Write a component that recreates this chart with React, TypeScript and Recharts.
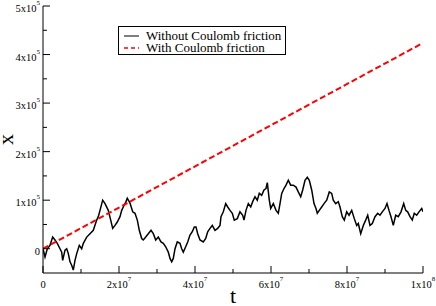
import React from 'react';
import { LineChart, Line, XAxis, YAxis } from 'recharts';

// t in units of 1e6, x in units of 1e3
const T_UNIT = 1e6;
const X_UNIT = 1e3;

const tWithout = [
  0, 0.53, 1.13, 1.84, 2.55, 3.16, 3.76, 4.47, 4.92, 5.18,
  5.79, 6.24, 6.66, 7.11, 7.55, 7.97, 8.42, 8.87, 9.55, 10.18,
  10.61, 11.5, 12.37, 13.24, 14.13, 14.55, 15.0, 15.71, 16.32, 17.18,
  17.82, 18.34, 18.95, 19.55, 20.26, 20.71, 21.13, 21.84, 22.18, 22.89,
  23.61, 24.21, 24.82, 25.34, 25.97, 26.39, 27.03, 27.71, 28.42, 29.03,
  29.66, 30.34, 31.05, 31.66, 32.29, 32.97, 33.42, 33.87, 34.29, 34.74,
  35.34, 36.05, 36.5, 36.92, 37.55, 38.08, 38.68, 39.29, 39.82, 40.26,
  40.71, 41.32, 42.18, 42.82, 43.34, 43.95, 44.55, 45.26, 45.97, 46.58,
  46.84, 47.45, 48.08, 48.61, 49.21, 49.82, 50.34, 51.13, 51.84, 52.55,
  52.89, 53.42, 54.03, 54.66, 55.18, 55.79, 56.39, 56.92, 57.55, 58.16,
  58.68, 59.03, 59.55, 59.92, 60.61, 61.32, 61.92, 62.37, 62.82, 63.42,
  63.95, 64.55, 65.18, 65.87, 66.58, 67.18, 67.82, 68.34, 68.95, 69.55,
  70.08, 70.71, 71.32, 71.84, 72.18, 72.71, 73.34, 73.95, 74.66, 75.34,
  75.97, 76.39, 77.03, 77.71, 78.16, 78.76, 79.29, 79.92, 80.53, 81.24,
  81.92, 82.55, 82.97, 83.61, 84.29, 84.92, 85.45, 86.05, 86.66, 87.37,
  88.08, 88.68, 89.29, 90.0, 90.53, 91.05, 91.58, 92.18, 92.82, 93.5,
  94.21, 94.92, 95.45, 95.97, 96.58, 97.18, 97.71, 98.34, 98.95, 99.66,
  100,
];

const xWithout = [
  0, -17, 0, 7, 24, 18, 11, 0, -7, -24,
  -3, 0, -10, -27, -34, -44, -24, -10, 7, 0,
  11, 24, 31, 38, 59, 66, 79, 100, 93, 79,
  59, 42, 48, 55, 66, 79, 86, 97, 104, 94,
  76, 73, 59, 38, 21, 18, 24, 31, 38, 31,
  18, 24, 14, 11, 4, -7, -20, -27, -20, 0,
  14, 11, 0, -7, 4, 14, 28, 35, 45, 45,
  31, 18, 14, 21, 35, 42, 48, 38, 42, 48,
  66, 76, 93, 86, 79, 73, 59, 62, 76, 69,
  59, 79, 93, 86, 97, 107, 100, 114, 110, 121,
  124, 136, 100, 83, 93, 79, 73, 93, 114, 124,
  131, 141, 131, 131, 127, 117, 107, 121, 141, 147,
  141, 121, 93, 83, 73, 79, 86, 93, 100, 117,
  114, 100, 93, 97, 86, 66, 59, 76, 69, 79,
  62, 48, 52, 31, 48, 59, 69, 48, 52, 66,
  73, 69, 76, 83, 93, 79, 66, 48, 69, 66,
  76, 93, 79, 76, 66, 59, 73, 69, 76, 83,
  76,
];

const tWith = [0, 100];
const xWith = [0, 424];

const xTicks = [0, 1e7, 2e7, 3e7, 4e7, 5e7, 6e7, 7e7, 8e7, 9e7, 1e8];
const yTicks = [0, 5e4, 1e5, 1.5e5, 2e5, 2.5e5, 3e5, 3.5e5, 4e5, 4.5e5, 5e5];
const xDomain = [0, 1e8];
const yDomain = [-5e4, 5e5];

const withoutData = tWithout.map((t, i) => ({ t: t * T_UNIT, x: xWithout[i] * X_UNIT }));
const withData = tWith.map((t, i) => ({ t: t * T_UNIT, x: xWith[i] * X_UNIT }));

const FONT = 'Liberation Serif, DejaVu Serif, serif';
const MAJOR = 7;
const MINOR = 4;

const sci = (v: number) => {
  if (v === 0) return { base: '0', exp: '' };
  const exp = Math.floor(Math.log10(Math.abs(v)) + 1e-9);
  const mant = Math.round(v / Math.pow(10, exp));
  return { base: `${mant}x10`, exp: String(exp) };
};

const SciText = ({ x, y, v, anchor }: any) => {
  const { base, exp } = sci(v);
  return (
    <text x={x} y={y} textAnchor={anchor} style={{ fontFamily: FONT, fontSize: 10.5 }} fill="#000">
      {base}
      {exp && (
        <tspan dy={-7} style={{ fontSize: 7 }}>
          {exp}
        </tspan>
      )}
    </text>
  );
};

const BottomTick = ({ x, y, payload }: any) => {
  const major = payload.value % 2e7 === 0;
  return (
    <g>
      <line x1={x} x2={x} y1={y} y2={y - (major ? MAJOR : MINOR)} stroke="#000" />
      {major && <SciText x={x} y={y + 15} v={payload.value} anchor="middle" />}
    </g>
  );
};

const TopTick = ({ x, y, payload }: any) => {
  const major = payload.value % 2e7 === 0;
  return <line x1={x} x2={x} y1={y} y2={y + (major ? MAJOR : MINOR)} stroke="#000" />;
};

const LeftTick = ({ x, y, payload }: any) => {
  const major = payload.value % 1e5 === 0;
  return (
    <g>
      <line x1={x} x2={x + (major ? MAJOR : MINOR)} y1={y} y2={y} stroke="#000" />
      {major && <SciText x={x - 3} y={y + 6} v={payload.value} anchor="end" />}
    </g>
  );
};

const RightTick = ({ x, y, payload }: any) => {
  const major = payload.value % 1e5 === 0;
  return <line x1={x} x2={x - (major ? MAJOR : MINOR)} y1={y} y2={y} stroke="#000" />;
};

const TitleT = ({ viewBox }: any) => (
  <text
    x={viewBox.x + viewBox.width / 2}
    y={viewBox.y + viewBox.height - 3}
    textAnchor="middle"
    style={{ fontFamily: FONT, fontSize: 22 }}
    fill="#000"
  >
    t
  </text>
);

const TitleX = ({ viewBox }: any) => {
  const cx = viewBox.x + 13;
  const cy = viewBox.y + viewBox.height / 2;
  return (
    <text
      x={cx}
      y={cy}
      textAnchor="middle"
      style={{ fontFamily: FONT, fontSize: 22 }}
      fill="#000"
      transform={`rotate(-90 ${cx} ${cy})`}
    >
      x
    </text>
  );
};

const LegendBox = () => (
  <div
    style={{
      position: 'absolute',
      left: 118,
      top: 26,
      width: 168,
      height: 29,
      boxSizing: 'border-box',
      border: '1px solid #000',
      background: '#fff',
    }}
  >
    <svg width={166} height={27} style={{ display: 'block' }}>
      <line x1={5} x2={20} y1={9} y2={9} stroke="#000" strokeWidth={1} />
      <text x={27} y={12.5} style={{ fontFamily: FONT, fontSize: 13 }} fill="#000">
        Without Coulomb friction
      </text>
      <line x1={5} x2={20} y1={21} y2={21} stroke="#ff0000" strokeWidth={1.5} strokeDasharray="4 3" />
      <text x={27} y={24.5} style={{ fontFamily: FONT, fontSize: 13 }} fill="#000">
        With Coulomb friction
      </text>
    </svg>
  </div>
);

export default function App() {
  return (
    <div style={{ position: 'absolute', left: 0, top: 0, width: 436, height: 306, background: '#fff' }}>
      <LineChart width={436} height={306} margin={{ top: 6, right: 13, left: 0, bottom: 0 }}>
        <XAxis
          dataKey="t"
          type="number"
          domain={xDomain}
          ticks={xTicks}
          interval={0}
          height={33}
          tickSize={0}
          tickMargin={0}
          tickLine={false}
          axisLine={{ stroke: '#000' }}
          tick={<BottomTick />}
          label={TitleT}
          allowDataOverflow
        />
        <YAxis
          dataKey="x"
          type="number"
          domain={yDomain}
          ticks={yTicks}
          interval={0}
          width={43}
          tickSize={0}
          tickMargin={0}
          tickLine={false}
          axisLine={{ stroke: '#000' }}
          tick={<LeftTick />}
          label={TitleX}
          allowDataOverflow
        />
        <XAxis
          xAxisId="top"
          orientation="top"
          dataKey="t"
          type="number"
          domain={xDomain}
          ticks={xTicks}
          interval={0}
          height={0}
          tickSize={0}
          tickMargin={0}
          tickLine={false}
          axisLine={{ stroke: '#000' }}
          tick={<TopTick />}
          allowDataOverflow
        />
        <YAxis
          yAxisId="right"
          orientation="right"
          dataKey="x"
          type="number"
          domain={yDomain}
          ticks={yTicks}
          interval={0}
          width={0}
          tickSize={0}
          tickMargin={0}
          tickLine={false}
          axisLine={{ stroke: '#000' }}
          tick={<RightTick />}
          allowDataOverflow
        />
        <Line
          data={withoutData}
          dataKey="x"
          type="linear"
          stroke="#000"
          strokeWidth={1.5}
          dot={false}
          isAnimationActive={false}
        />
        <Line
          data={withData}
          dataKey="x"
          xAxisId="top"
          yAxisId="right"
          type="linear"
          stroke="#ff0000"
          strokeWidth={2}
          strokeDasharray="6 3"
          dot={false}
          isAnimationActive={false}
        />
      </LineChart>
      <LegendBox />
    </div>
  );
}
